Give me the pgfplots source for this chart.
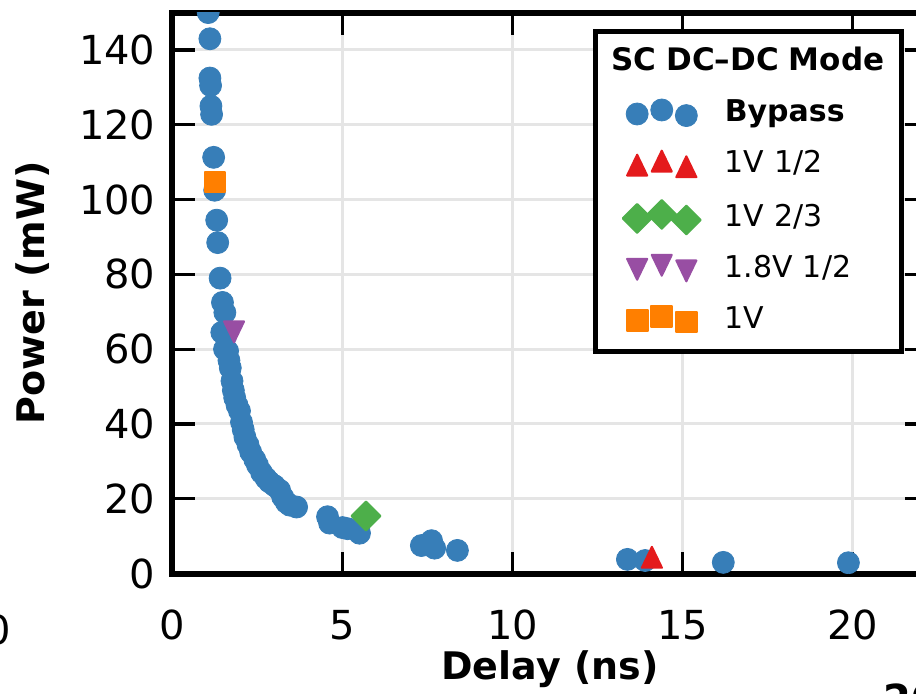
\documentclass[border=0pt]{standalone}
\usepackage{fontspec}
\setmainfont{DejaVu Sans}
\usepackage{pgfplots}
\pgfplotsset{compat=1.18}

\definecolor{cblue}{HTML}{377EB8}
\definecolor{cred}{HTML}{E41A1C}
\definecolor{cgreen}{HTML}{4DAF4A}
\definecolor{cpurple}{HTML}{984EA3}
\definecolor{corange}{HTML}{FF7F00}

\begin{document}
\begin{tikzpicture}[x=1pt,y=1pt]
\begin{axis}[
    at={(0,0)}, anchor=south west,
    scale only axis,
    width=377.4pt, height=280.5pt,
    xmin=0, xmax=22.2,
    ymin=0, ymax=150,
    xtick={0,5,10,15,20},
    ytick={0,20,40,60,80,100,120,140},
    tick align=inside,
    major tick length=11pt,
    tick style={line width=1.6pt, black},
    axis line style={line width=3pt},
    grid=major,
    grid style={line width=1.5pt, color=black!10},
    ticklabel style={font=\fontsize{20}{24}\selectfont},
    yticklabel style={xshift=-5pt},
    xticklabel style={yshift=-14.8pt},
    /pgf/number format/assume math mode=true,
    xlabel={\textbf{Delay (ns)}},
    ylabel={\textbf{Power (mW)}},
    label style={font=\fontsize{19}{23}\selectfont, inner sep=0pt},
    xlabel style={at={(axis description cs:0.5,-0.136)}, anchor=north},
    ylabel style={at={(axis description cs:-0.208,0.5)}, anchor=north},
    clip marker paths=true,
    legend cell align=left,
    legend style={
        at={(0.9695,0.9699)}, anchor=north east,
        draw=black, line width=2.5pt,
        inner xsep=13.5pt, inner ysep=7.5pt,
        row sep=9.5pt, column sep=11pt,
        font=\fontsize{15}{18}\selectfont,
        nodes={inner sep=1pt, text height=11pt, text depth=3pt, text width=74pt, align=left},
    },
    legend image code/.code={
        \draw[#1, only marks] plot coordinates {(0pt,0pt) (12.3pt,2pt) (24.6pt,-0.8pt)};
    },
]
\addlegendimage{empty legend}
\addlegendentry{\makebox[0pt][l]{\hspace{11.5pt}\makebox[0pt][c]{\fontsize{15.5}{18}\selectfont\textbf{SC DC--DC Mode}}}}

\addplot[only marks, mark=*, mark size=5.5pt, color=cblue, line width=0.4pt] coordinates {
    (1.05,150) (1.10,143) (1.10,132.5) (1.12,130.5) (1.13,125) (1.15,122.8)
    (1.21,111.3) (1.24,102.5) (1.30,94.5) (1.33,88.5) (1.40,79) (1.47,72.5)
    (1.54,69.8) (1.45,64.5) (1.56,63.5) (1.53,60) (1.62,59.5) (1.66,57)
    (1.70,55) (1.75,51.5) (1.79,49) (1.83,47) (1.90,45) (1.97,43.5)
    (2.03,40.5) (2.08,38.5) (2.13,36.5) (2.22,34.5) (2.30,32.5) (2.42,30.5)
    (2.50,29) (2.62,27) (2.75,25.5) (2.85,24.5) (3.00,23.5) (3.15,22.3)
    (3.24,20.5) (3.35,19) (3.45,18.3) (3.65,17.8) (4.56,15.2) (4.62,13.5)
    (5.00,12.3) (5.15,12) (5.50,10.8) (7.32,7.5) (7.62,8.8) (7.71,6.8)
    (8.38,6.2) (13.38,3.8) (13.90,3.5) (16.20,3.0) (19.88,2.9)
};
\addlegendentry{\textbf{Bypass}}

\addplot[only marks, mark=triangle*, mark size=5.8pt, color=cred, line width=1pt,
    mark options={yshift=-1.8pt, yscale=1.2, line join=round}] coordinates {(14.1,4.4)};
\addlegendentry{1V 1/2}

\addplot[only marks, mark=square*, mark size=5.1pt, color=cgreen, line width=1pt,
    mark options={rotate=45, line join=round}] coordinates {(5.69,15.4)};
\addlegendentry{1V 2/3}

\addplot[only marks, mark=triangle*, mark size=5.8pt, color=cpurple, line width=1pt,
    mark options={yshift=1.8pt, rotate=180, yscale=1.2, line join=round}] coordinates {(1.81,64.6)};
\addlegendentry{1.8V 1/2}

\addplot[only marks, mark=square*, mark size=5.2pt, color=corange, line width=1pt,
    mark options={line join=round}] coordinates {(1.25,104.7)};
\addlegendentry{1V}
\end{axis}

% fragments of the neighbouring panels, cut by the page edge
\node[anchor=east, inner sep=0pt, font=\fontsize{20}{24}\selectfont] at (-80.75,-28.2) {20};
\node[anchor=north west, inner sep=0pt, font=\fontsize{20}{24}\selectfont\bfseries] at (355.25,-54.7) {20};

\pgfresetboundingbox
\path[use as bounding box] (-86.25,-60.2) rectangle (371.75,286.8);
\end{tikzpicture}
\end{document}
